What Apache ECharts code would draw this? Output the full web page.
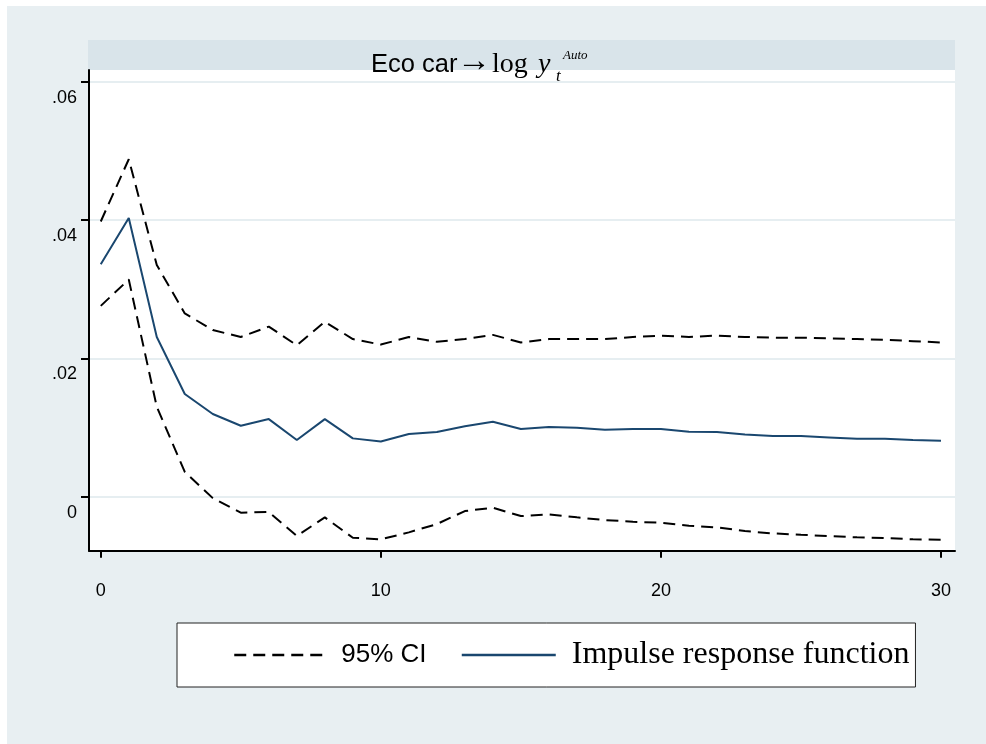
<!DOCTYPE html>
<html><head><meta charset="utf-8">
<script src="https://cdn.jsdelivr.net/npm/echarts@6/dist/echarts.min.js"></script>
<style>html,body{margin:0;padding:0;background:#fff}#c{width:986px;height:744px}</style>
</head><body><div id="c"></div>
<script>
const steps = [0,1,2,3,4,5,6,7,8,9,10,11,12,13,14,15,16,17,18,19,20,21,22,23,24,25,26,27,28,29,30];
const upperCI = [0.0398,0.0488,0.0335,0.0265,0.0241,0.0231,0.0246,0.0219,0.0253,0.0228,0.0220,0.0231,0.0224,0.0228,0.0234,0.0223,0.0228,0.0228,0.0228,0.0231,0.0233,0.0231,0.0233,0.0231,0.0230,0.0230,0.0229,0.0228,0.0227,0.0225,0.0223];
const irf = [0.0336,0.0403,0.0231,0.01485,0.01196,0.01027,0.01123,0.0082,0.01123,0.00844,0.0080,0.00906,0.00935,0.0102,0.01084,0.00979,0.01008,0.00998,0.00969,0.00979,0.00979,0.0094,0.00935,0.0090,0.00877,0.00877,0.00858,0.00839,0.00839,0.0082,0.0081];
const lowerCI = [0.0276,0.0314,0.0130,0.0036,-0.0002,-0.0023,-0.0022,-0.00568,-0.00298,-0.00593,-0.00616,-0.00515,-0.00395,-0.00207,-0.00159,-0.00279,-0.00255,-0.00298,-0.00337,-0.00361,-0.00376,-0.00419,-0.00443,-0.00496,-0.0053,-0.0055,-0.00568,-0.00587,-0.00597,-0.00616,-0.0062];
const yTicks = [0, 0.02, 0.04, 0.06];
const yTickLabels = ['0', '.02', '.04', '.06'];
const xTicks = [0, 10, 20, 30];
const xTickLabels = ['0', '10', '20', '30'];
const ciName = '95% CI';
const irfName = 'Impulse response function';

const pairs = (ys) => steps.map((s, i) => [s, ys[i]]);
const chart = echarts.init(document.getElementById('c'), null, {renderer: 'canvas'});
const dashStyle = {color: '#000', width: 2, type: [12, 7]};
chart.setOption({
  animation: false,
  backgroundColor: '#fff',
  graphic: [
    {type: 'rect', z: -10, shape: {x: 7, y: 6, width: 979, height: 738}, style: {fill: '#e8eff2'}},
    {type: 'rect', z: -9, shape: {x: 88, y: 40, width: 867, height: 30}, style: {fill: '#d9e4ea'}},
    {type: 'text', z: 10, style: {text: 'Eco car', x: 371, y: 65, font: '25.5px "Liberation Sans"', fill: '#000', verticalAlign: 'middle'}},
    {type: 'text', z: 10, style: {text: '→', x: 457, y: 62, font: '34px "Liberation Serif"', fill: '#000', verticalAlign: 'middle'}},
    {type: 'text', z: 10, style: {text: 'log', x: 492, y: 65, font: '28px "Liberation Serif"', fill: '#000', verticalAlign: 'middle'}},
    {type: 'text', z: 10, style: {text: 'y', x: 538, y: 65, font: 'italic 28px "Liberation Serif"', fill: '#000', verticalAlign: 'middle'}},
    {type: 'text', z: 10, style: {text: 't', x: 556, y: 77, font: 'italic 17px "Liberation Serif"', fill: '#000', verticalAlign: 'middle'}},
    {type: 'text', z: 10, style: {text: 'Auto', x: 563, y: 56, font: 'italic 13px "Liberation Serif"', fill: '#000', verticalAlign: 'middle'}}
  ],
  grid: {left: 89, top: 70, right: 31, bottom: 193.3, show: true, backgroundColor: '#fff', borderWidth: 0},
  xAxis: {
    type: 'value', min: -0.42, max: 30.5,
    axisLine: {show: true, onZero: false, lineStyle: {color: '#000', width: 2}},
    axisTick: {show: true, length: 7, lineStyle: {color: '#000', width: 2}, customValues: xTicks},
    axisLabel: {customValues: xTicks, margin: 31, fontSize: 18, fontFamily: 'Liberation Sans', color: '#000',
      formatter: (v) => xTickLabels[xTicks.indexOf(v)] ?? ''},
    splitLine: {show: false}
  },
  yAxis: {
    type: 'value', min: -0.0078, max: 0.0617,
    axisLine: {show: true, onZero: false, lineStyle: {color: '#000', width: 2}},
    axisTick: {show: true, length: 8, lineStyle: {color: '#000', width: 2}, customValues: yTicks},
    axisLabel: {customValues: yTicks, margin: 12, color: '#000',
      formatter: (v) => { const i = yTicks.findIndex(t => Math.abs(t - v) < 1e-9); return i >= 0 ? '{a|' + yTickLabels[i] + '}' : ''; },
      rich: {a: {fontSize: 18, fontFamily: 'Liberation Sans', color: '#000', padding: [32, 0, 0, 0]}}},
    splitLine: {show: true, lineStyle: {color: '#e6eef1', width: 2}}
  },
  legend: {
    left: 177, top: 623, orient: 'horizontal',
    backgroundColor: '#fff', borderColor: '#222', borderWidth: 1, borderRadius: 0,
    padding: [16, 6, 16, 56], itemWidth: 94, itemHeight: 14, itemGap: 34,
    itemStyle: {opacity: 0},
    lineStyle: {width: 2.5},
    data: [
      {name: ciName, textStyle: {fontFamily: 'Liberation Sans', fontSize: 26, color: '#000', padding: [10, 0, 0, 8]}},
      {name: irfName, textStyle: {fontFamily: 'Liberation Serif', fontSize: 32, color: '#000', padding: [0, 0, 0, 11]}}
    ]
  },
  series: [
    {name: ciName, type: 'line', data: pairs(upperCI), showSymbol: false, symbol: 'none', lineStyle: dashStyle, itemStyle: {color: '#000'}},
    {name: irfName, type: 'line', data: pairs(irf), showSymbol: false, symbol: 'none', lineStyle: {color: '#1a476f', width: 2}, itemStyle: {color: '#1a476f'}},
    {name: ciName, type: 'line', data: pairs(lowerCI), showSymbol: false, symbol: 'none', lineStyle: dashStyle, itemStyle: {color: '#000'}}
  ]
});
</script>
</body></html>
